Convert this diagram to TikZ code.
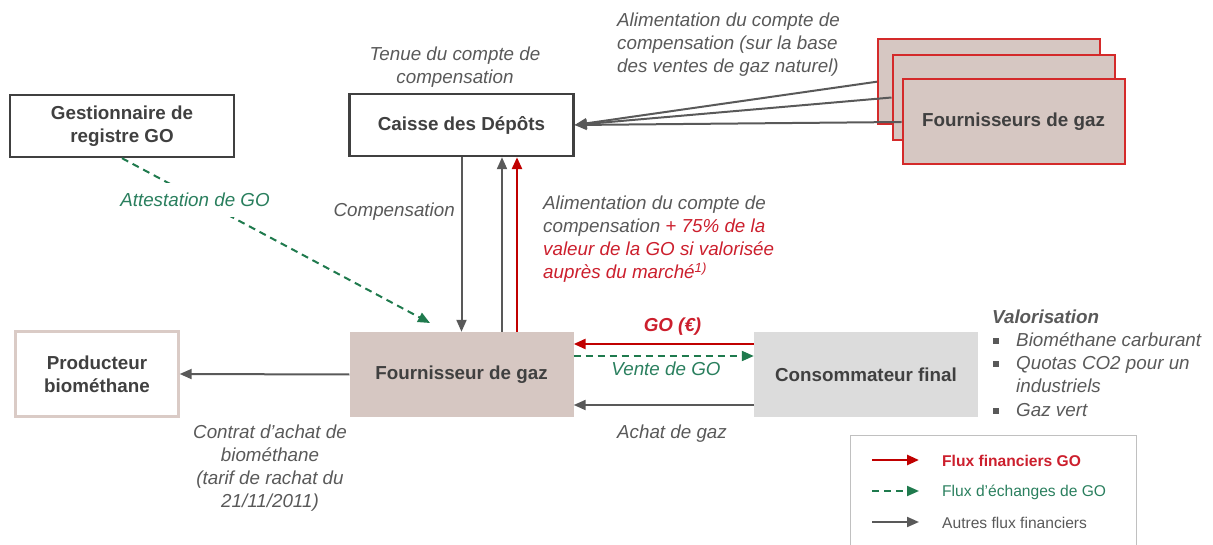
\documentclass[tikz,border=0pt]{standalone}
\usepackage{fontspec}
\setmainfont{Liberation Sans}
\usetikzlibrary{arrows.meta,calc}
\definecolor{txtgrey}{HTML}{595959}
\definecolor{boxgrey}{HTML}{404040}
\definecolor{arrgrey}{HTML}{595959}
\definecolor{goRed}{HTML}{C00000}
\definecolor{redtxt}{HTML}{CC1F2D}
\definecolor{goGreen}{HTML}{1F7A4D}
\definecolor{greentxt}{HTML}{2A7F5E}
\definecolor{taupe}{HTML}{D6C7C2}
\definecolor{lightgreybox}{HTML}{DCDCDC}
\definecolor{prodborder}{HTML}{DACBC6}
\definecolor{suppborder}{HTML}{D42A2A}
\definecolor{legborder}{HTML}{C0C0C0}
\newcommand\mainsize{\fontsize{18.8}{23}\selectfont}
\newcommand\legsize{\fontsize{15.6}{18}\selectfont}
\begin{document}
\begin{tikzpicture}[x=1pt,y=-1pt,
  outlinebox/.style={draw=boxgrey, line width=2.4pt, fill=white, font=\mainsize\bfseries, text=boxgrey, align=center, minimum width=224pt, minimum height=62pt, inner sep=0pt},
  fillbox/.style={font=\mainsize\bfseries, text=boxgrey, align=center, minimum width=224pt, minimum height=85pt, inner sep=0pt},
  suppbox/.style={fill=taupe, draw=suppborder, line width=2pt, font=\mainsize\bfseries, text=boxgrey, align=center, minimum width=222pt, minimum height=85pt, inner sep=0pt},
  grayarrow/.style={draw=arrgrey, line width=2pt, -{Triangle[length=12pt,width=10pt]}},
  redarrow/.style={draw=goRed, line width=2.6pt, -{Triangle[length=12pt,width=10pt]}},
  greenarrow/.style={draw=goGreen, line width=2pt, dash pattern=on 7pt off 5pt, -{Triangle[length=12pt,width=10pt]}},
  lbl/.style={font=\mainsize\itshape, text=txtgrey, align=center, inner sep=0pt},
  bulletsq/.style={fill=txtgrey, minimum size=6pt, inner sep=0pt},
  legtxt/.style={font=\legsize, text=txtgrey, anchor=west, inner sep=0pt}
]
\useasboundingbox (0,0) rectangle (1213,545);

% boxes
\node[outlinebox] (gest) at (122,126) {Gestionnaire de\\registre GO};
\node[outlinebox] (caisse) at (461.5,125) {Caisse des Dépôts};
\node[fillbox, fill=white, draw=prodborder, line width=2.4pt, minimum width=163pt] (prod) at (97,374) {Producteur\\biométhane};
\node[fillbox, fill=taupe] (four) at (461.5,374.5) {Fournisseur de gaz};
\node[fillbox, fill=lightgreybox] (conso) at (866,374.5) {Consommateur final};
\node[suppbox] (fb) at (989,81.7) {};
\node[suppbox] (fm) at (1003.5,97.5) {};
\node[suppbox] (ff) at (1013.5,122) {Fournisseurs de gaz};

% connectors to Caisse des Depots
\draw[grayarrow] (fb.west) -- (caisse.east);
\draw[grayarrow] (fm.west) -- (caisse.east);
\draw[grayarrow] (ff.west) -- (caisse.east);

\draw[grayarrow] (caisse.south) -- (caisse.south |- four.north);
\draw[grayarrow] ($(four.north)+(40.5,0)$) -- ($(caisse.south)+(40.5,0)$);
\draw[redarrow] ($(four.north)+(55.5,0)$) -- ($(caisse.south)+(55.5,0)$);

% horizontal flows
\draw[redarrow] ($(conso.west)+(0,-30.5)$) -- ($(four.east)+(0,-30.5)$);
\draw[greenarrow] ($(four.east)+(0,-18.5)$) -- ($(conso.west)+(0,-18.5)$);
\draw[grayarrow] ($(conso.west)+(0,30.5)$) -- ($(four.east)+(0,30.5)$);
\draw[grayarrow] (four.west) -- (prod.east);

% attestation
\coordinate (gtip) at (430,323);
\draw[greenarrow] (gest.south) -- (gtip);
\node[lbl, text=greentxt, fill=white, inner xsep=2pt, inner ysep=10pt] (att) at (195,200) {Attestation de GO};

% labels
\node[lbl] (tenue) at (455,67.5) {Tenue du compte de\\compensation};
\node[lbl, anchor=east] (comp) at (455,212) {Compensation};
\node[lbl, align=left, anchor=west] (alim1) at (617,45) {Alimentation du compte de\\compensation (sur la base\\des ventes de gaz naturel)};
\node[lbl, align=left, anchor=west] (alim2) at (543,239) {Alimentation du compte de\\compensation \textcolor{redtxt}{+ 75\% de la}\\\textcolor{redtxt}{valeur de la GO si valorisée}\\\textcolor{redtxt}{auprès du marché\textsuperscript{1)}}};
\node[lbl, font=\mainsize\bfseries\itshape, text=redtxt] (goe) at (672.5,327) {GO (€)};
\node[lbl, text=greentxt] (vente) at (666,369) {Vente de GO};
\node[lbl] (achat) at (672,434) {Achat de gaz};
\node[lbl] (contrat) at (270,468.5) {Contrat d'achat de\\biométhane\\(tarif de rachat du\\21/11/2011)};

% valorisation
\node[lbl, font=\mainsize\bfseries\itshape, anchor=west] (val) at (992,317) {Valorisation};
\node[bulletsq] (b1) at (996,341) {};
\node[bulletsq] (b2) at (996,364) {};
\node[bulletsq] (b3) at (996,411) {};
\node[lbl, anchor=west] (v1) at (1016,340) {Biométhane carburant};
\node[lbl, anchor=west, align=left] (v2) at (1016,375) {Quotas CO2 pour un\\industriels};
\node[lbl, anchor=west] (v3) at (1016,410) {Gaz vert};

% legend
\node[draw=legborder, line width=1pt, minimum width=286.5pt, minimum height=110pt, anchor=north west, inner sep=0pt] (leg) at (849.5,435) {};
\coordinate (l1s) at (872,460); \coordinate (l1e) at (919,460);
\coordinate (l2s) at (872,491); \coordinate (l2e) at (919,491);
\coordinate (l3s) at (872,522); \coordinate (l3e) at (919,522);
\draw[redarrow] (l1s) -- (l1e);
\draw[greenarrow] (l2s) -- (l2e);
\draw[grayarrow] (l3s) -- (l3e);
\node[legtxt, font=\legsize\bfseries, text=redtxt] (lt1) at (942,461) {Flux financiers GO};
\node[legtxt, text=greentxt] (lt2) at (942,492) {Flux d'échanges de GO};
\node[legtxt] (lt3) at (942,523) {Autres flux financiers};
\end{tikzpicture}
\end{document}
